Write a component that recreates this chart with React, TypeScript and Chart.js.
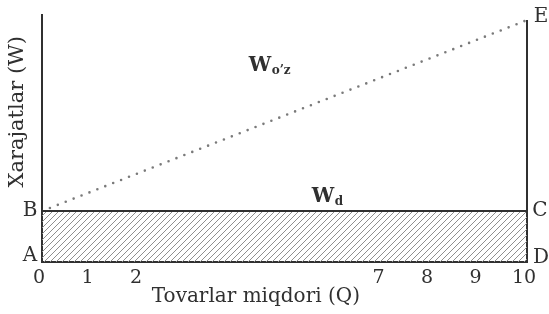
import React, { useEffect, useRef } from "react";
import { Chart, registerables } from "chart.js";

Chart.register(...registerables);

// Data
const quantityRange = [0, 10];
const fixedCost = [2, 2]; // W_d (B -> C)
const totalCost = [2, 9.5]; // W_o'z (B -> E)
const xTickValues = [0, 1, 2, 7, 8, 9, 10];
const yMax = 9.7;

const SERIF = "'DejaVu Serif', 'Liberation Serif', serif";
const INK = "#303030";

function makeHatch(): CanvasPattern | string {
  const c = document.createElement("canvas");
  c.width = 6;
  c.height = 6;
  const g = c.getContext("2d");
  if (!g) return "#ccc";
  g.strokeStyle = "#8f8f8f";
  g.lineWidth = 1;
  g.beginPath();
  g.moveTo(0, 6);
  g.lineTo(6, 0);
  g.moveTo(-1, 1);
  g.lineTo(1, -1);
  g.moveTo(5, 7);
  g.lineTo(7, 5);
  g.stroke();
  const p = g.createPattern(c, "repeat");
  return p || "#ccc";
}

const labelsPlugin = {
  id: "labelsPlugin",
  afterDatasetsDraw(chart: any) {
    const { ctx, scales } = chart;
    const xs = scales.x;
    const ys = scales.y;
    const x0 = xs.getPixelForValue(quantityRange[0]);
    const x1 = xs.getPixelForValue(quantityRange[1]);
    const yA = ys.getPixelForValue(0);
    const yB = ys.getPixelForValue(fixedCost[0]);
    const yE = ys.getPixelForValue(totalCost[1]);
    ctx.save();
    ctx.fillStyle = INK;
    ctx.textBaseline = "middle";
    ctx.font = `20px ${SERIF}`;
    ctx.textAlign = "center";
    ctx.fillText("B", x0 - 12, yB);
    ctx.fillText("A", x0 - 12, yA - 6);
    ctx.fillText("C", x1 + 13, yB);
    ctx.fillText("D", x1 + 14, yA - 4);
    ctx.fillText("E", x1 + 14, yE - 3);

    // W_o'z
    const wx = xs.getPixelForValue(4.55);
    const wy = ys.getPixelForValue(7.7);
    ctx.font = `bold 20px ${SERIF}`;
    ctx.textAlign = "left";
    ctx.fillText("W", wx - 14, wy);
    ctx.font = `bold 12px ${SERIF}`;
    ctx.fillText("o\u2019z", wx + 9, wy + 5);

    // W_d
    const dx = xs.getPixelForValue(5.85);
    const dy = ys.getPixelForValue(2.55);
    ctx.font = `bold 20px ${SERIF}`;
    ctx.fillText("W", dx - 14, dy);
    ctx.font = `bold 12px ${SERIF}`;
    ctx.fillText("d", dx + 9, dy + 5);

    // axis titles
    ctx.font = `20px ${SERIF}`;
    ctx.textAlign = "center";
    ctx.fillText("Tovarlar miqdori (Q)", xs.getPixelForValue(4.41), 297);
    ctx.font = `21px ${SERIF}`;
    ctx.translate(18, ys.getPixelForValue(5.9));
    ctx.rotate(-Math.PI / 2);
    ctx.fillText("Xarajatlar (W)", 0, 0);
    ctx.restore();
  },
};

export default function App() {
  const ref = useRef<HTMLCanvasElement | null>(null);

  useEffect(() => {
    if (!ref.current) return;
    const hatch = makeHatch();
    const chart = new Chart(ref.current, {
      type: "line",
      data: {
        datasets: [
          {
            label: "W_d",
            data: quantityRange.map((q, i) => ({ x: q, y: fixedCost[i] })),
            borderColor: INK,
            borderWidth: 2,
            backgroundColor: hatch as any,
            fill: "origin",
            pointRadius: 0,
            tension: 0,
          },
          {
            label: "W_o'z",
            data: quantityRange.map((q, i) => ({ x: q, y: totalCost[i] })),
            borderColor: "#7a7a7a",
            borderWidth: 2.6,
            borderDash: [0, 8.5],
            borderCapStyle: "round",
            fill: false,
            pointRadius: 0,
            tension: 0,
          },
          {
            label: "right",
            data: [
              { x: quantityRange[1], y: 0 },
              { x: quantityRange[1], y: totalCost[1] },
            ],
            borderColor: INK,
            borderWidth: 2,
            fill: false,
            pointRadius: 0,
            clip: false as any,
          },
        ],
      },
      options: {
        animation: false,
        responsive: false,
        maintainAspectRatio: false,
        layout: { padding: { left: 42, right: 22, top: 15, bottom: 0 } },
        plugins: {
          legend: { display: false },
          tooltip: { enabled: false },
        },
        scales: {
          x: {
            type: "linear",
            min: 0,
            max: 10,
            grid: { display: false, drawTicks: false },
            border: { display: true, color: INK, width: 2 },
            afterBuildTicks: (scale: any) => {
              scale.ticks = xTickValues.map((v) => ({ value: v }));
            },
            afterFit: (scale: any) => {
              scale.height = 52;
            },
            ticks: {
              autoSkip: false,
              maxRotation: 0,
              padding: 5,
              labelOffset: -3,
              color: INK,
              font: { family: SERIF, size: 19 },
            },
          },
          y: {
            type: "linear",
            min: 0,
            max: yMax,
            grid: { display: false, drawTicks: false },
            border: { display: true, color: INK, width: 2 },
            ticks: { display: false },
            afterFit: (scale: any) => {
              scale.width = 0;
            },
          },
        },
      },
      plugins: [labelsPlugin],
    } as any);
    return () => chart.destroy();
  }, []);

  return (
    <div style={{ position: "fixed", left: 0, top: 0, width: 549, height: 314, background: "#fff" }}>
      <canvas ref={ref} width={549} height={314} style={{ width: 549, height: 314 }} />
    </div>
  );
}
